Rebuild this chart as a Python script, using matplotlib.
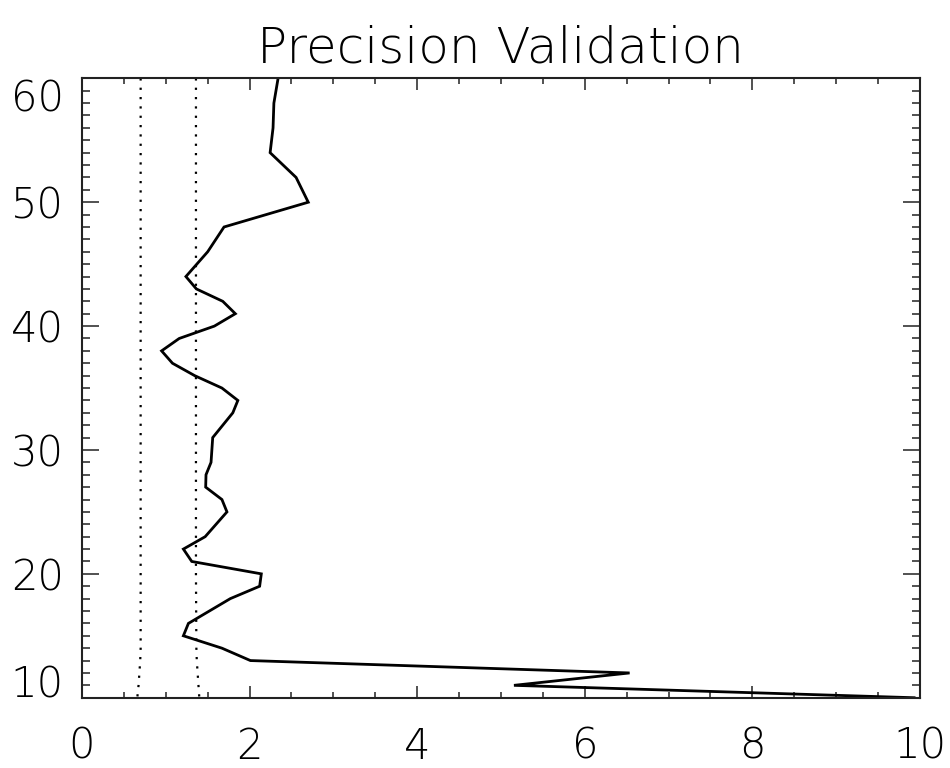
import numpy as np
import matplotlib
matplotlib.use("Agg")
import matplotlib.pyplot as plt
from matplotlib.ticker import MultipleLocator

# precision profile (x value at each level)
level = [60, 58, 56, 54, 52, 50, 48, 46, 44, 43, 42, 41, 40, 39, 38, 37, 36,
         35, 34, 33, 31, 29, 28, 27, 26, 25, 23, 22, 21, 20, 19, 18, 16, 15,
         14, 13, 12, 11, 10]
precision = [2.34, 2.29, 2.28, 2.245, 2.555, 2.70, 1.695, 1.50, 1.24, 1.365,
             1.68, 1.83, 1.58, 1.16, 0.95, 1.08, 1.345, 1.67, 1.86, 1.80,
             1.56, 1.54, 1.48, 1.476, 1.67, 1.73, 1.47, 1.21, 1.31, 2.14,
             2.12, 1.77, 1.27, 1.21, 1.67, 2.01, 6.535, 5.155, 9.93]

# reference limits (dotted)
ref_level = [60, 40, 20, 14, 13, 12, 11, 10]
ref_low = [0.70, 0.70, 0.70, 0.70, 0.695, 0.685, 0.675, 0.66]
ref_high = [1.36, 1.36, 1.36, 1.365, 1.37, 1.38, 1.39, 1.40]

xticks = [0, 2, 4, 6, 8, 10]
yticks = [10, 20, 30, 40, 50, 60]

font = dict(family="DejaVu Sans", weight=200)

fig = plt.figure(figsize=(9.5, 7.68), dpi=100)
ax = fig.add_axes([0.0863, 0.0915, 0.8821, 0.8065])

ax.plot(ref_low, ref_level, color="black", lw=1.6, ls=(0, (1, 3.2)))
ax.plot(ref_high, ref_level, color="black", lw=1.6, ls=(0, (1, 3.2)))
ax.plot(precision, level, color="black", lw=2.0, solid_joinstyle="miter")

ax.set_xlim(0, 10)
ax.set_ylim(10, 60)
ax.set_xticks(xticks)
ax.set_yticks(yticks)
ax.xaxis.set_minor_locator(MultipleLocator(0.5))
ax.yaxis.set_minor_locator(MultipleLocator(1))

ax.tick_params(axis="both", which="both", direction="in",
               top=True, right=True, width=1.1, color="#222222")
ax.tick_params(axis="x", which="major", length=8.8, pad=20)
ax.tick_params(axis="x", which="minor", length=4.4)
ax.tick_params(axis="y", which="major", length=12.3, pad=13)
ax.tick_params(axis="y", which="minor", length=6.0)

ax.set_xticklabels([str(t) for t in xticks], fontsize=30, **font)
ylabels = ax.set_yticklabels([str(t) for t in yticks], fontsize=30, **font)
ylabels[0].set_va("baseline")
ylabels[-1].set_va("top")

for s in ax.spines.values():
    s.set_linewidth(1.5)
    s.set_color("#222222")

fig.text(0.527, 0.919, "Precision Validation", ha="center", va="baseline",
         fontsize=36, **font)

fig.savefig("out.png", dpi=100)
